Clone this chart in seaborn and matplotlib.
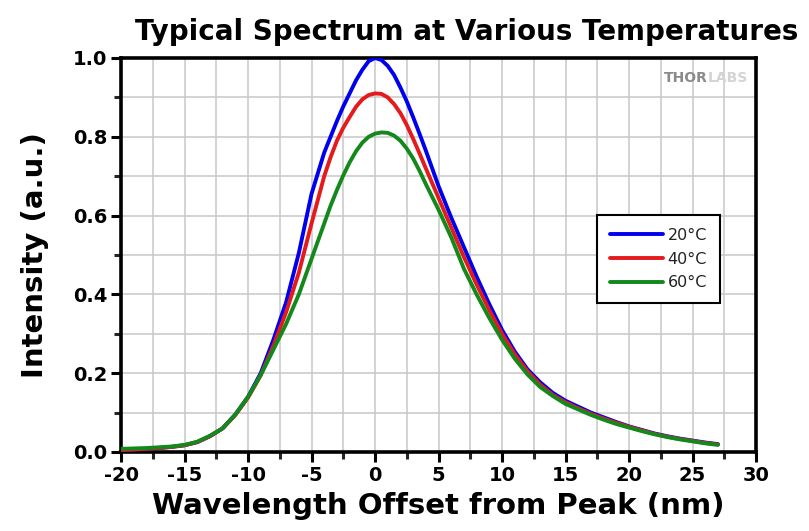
import matplotlib
matplotlib.use("Agg")
import matplotlib.pyplot as plt
from matplotlib.ticker import MultipleLocator
import numpy as np
import pandas as pd
import seaborn as sns

# wavelength offset (nm); finer steps around the peak
offset = [-20, -19, -18, -17, -16, -15, -14, -13, -12, -11, -10, -9, -8, -7, -6,
          -5, -4, -3.5, -3, -2.5, -2, -1.5, -1, -0.5, 0, 0.5, 1, 1.5, 2, 2.5,
          3, 3.5, 4, 5, 6, 7, 8, 9, 10, 11, 12, 13, 14,
          15, 16, 17, 18, 19, 20, 21, 22, 23, 24, 25, 26, 27]

i_20 = [0.005, 0.006, 0.008, 0.010, 0.013, 0.017, 0.025, 0.040, 0.060, 0.095,
        0.140, 0.200, 0.285, 0.380, 0.505, 0.655, 0.760, 0.800, 0.840, 0.877,
        0.910, 0.943, 0.970, 0.992, 1.000, 0.995, 0.980, 0.957, 0.925, 0.890,
        0.850, 0.808, 0.765, 0.675, 0.595, 0.520, 0.445, 0.375,
        0.310, 0.255, 0.210, 0.177, 0.150, 0.130, 0.115, 0.100, 0.088, 0.076,
        0.065, 0.056, 0.047, 0.040, 0.034, 0.029, 0.024, 0.020]

i_40 = [0.005, 0.006, 0.008, 0.010, 0.013, 0.017, 0.025, 0.040, 0.060, 0.094,
        0.138, 0.195, 0.270, 0.355, 0.455, 0.580, 0.700, 0.748, 0.790, 0.823,
        0.850, 0.876, 0.895, 0.906, 0.910, 0.909, 0.900, 0.883, 0.860, 0.830,
        0.795, 0.758, 0.720, 0.645, 0.570, 0.495, 0.425, 0.360,
        0.300, 0.248, 0.205, 0.171, 0.145, 0.126, 0.111, 0.097, 0.085, 0.074,
        0.064, 0.055, 0.046, 0.039, 0.033, 0.028, 0.023, 0.019]

i_60 = [0.008, 0.009, 0.010, 0.012, 0.014, 0.018, 0.026, 0.041, 0.060, 0.095,
        0.140, 0.195, 0.260, 0.325, 0.400, 0.490, 0.580, 0.625, 0.665, 0.702,
        0.735, 0.763, 0.785, 0.800, 0.808, 0.811, 0.810, 0.803, 0.790, 0.770,
        0.745, 0.714, 0.680, 0.615, 0.545, 0.465, 0.400, 0.340,
        0.285, 0.237, 0.197, 0.165, 0.142, 0.122, 0.108, 0.094, 0.082, 0.071,
        0.062, 0.053, 0.045, 0.038, 0.032, 0.027, 0.022, 0.018]

temps = ["20°C", "40°C", "60°C"]
colors = ["#0000ee", "#e41a1c", "#12891a"]

df = pd.concat([
    pd.DataFrame({"offset": offset, "intensity": vals, "temp": t})
    for t, vals in zip(temps, [i_20, i_40, i_60])
])

sns.set_style("white")
plt.rcParams["font.family"] = ["DejaVu Sans"]
plt.rcParams["text.color"] = "black"
plt.rcParams["axes.labelcolor"] = "black"

fig = plt.figure(figsize=(8.09, 5.31), dpi=100)
ax = fig.add_axes([0.1496, 0.1488, 0.7849, 0.742])

sns.lineplot(data=df, x="offset", y="intensity", hue="temp", hue_order=temps,
             palette=colors, linewidth=2.8, ax=ax, zorder=3)

ax.xaxis.set_major_locator(MultipleLocator(5))
ax.xaxis.set_minor_locator(MultipleLocator(2.5))
ax.yaxis.set_major_locator(MultipleLocator(0.2))
ax.yaxis.set_minor_locator(MultipleLocator(0.1))
ax.set_xlim(-20, 30)
ax.set_ylim(0, 1.0)
ax.yaxis.set_major_formatter(lambda v, p: f"{v:.1f}")
ax.xaxis.set_major_formatter(lambda v, p: f"{v:g}")
ax.grid(which="both", color="#c8c8c8", linewidth=1.1, zorder=0)
ax.set_axisbelow(True)

for s in ax.spines.values():
    s.set_visible(True)
    s.set_color("black")
    s.set_linewidth(2.6)

ax.tick_params(which="major", direction="out", length=7, width=2.2,
               labelsize=14, colors="black", pad=3, bottom=True, left=True)
ax.tick_params(which="minor", direction="out", length=5, width=2.2,
               bottom=True, left=True)
for lab in ax.get_xticklabels() + ax.get_yticklabels():
    lab.set_fontweight("bold")

ax.set_xlabel("Wavelength Offset from Peak (nm)", fontsize=21, fontweight="bold", labelpad=5)
ax.set_ylabel("Intensity (a.u.)", fontsize=21, fontweight="bold", labelpad=17)
ax.set_title("Typical Spectrum at Various Temperatures", fontsize=20, fontweight="bold",
             pad=13, x=0.545)

leg = ax.legend(loc="upper left", bbox_to_anchor=(0.75, 0.6015), borderaxespad=0,
                fancybox=False, edgecolor="black", framealpha=1, fontsize=11.5,
                handlelength=3.3, handletextpad=0.3, labelspacing=0.55,
                borderpad=0.8, title=None)
leg.get_frame().set_linewidth(1.5)
for t in leg.get_texts():
    t.set_color("#222222")

ax.text(0.924, 0.949, "THOR", transform=ax.transAxes, fontsize=10, fontweight="bold",
        color="#8a8a8a", ha="right", va="center")
ax.text(0.924, 0.949, "LABS", transform=ax.transAxes, fontsize=10, fontweight="bold",
        color="#d4d4d4", ha="left", va="center")

fig.savefig("out.png", dpi=100)
